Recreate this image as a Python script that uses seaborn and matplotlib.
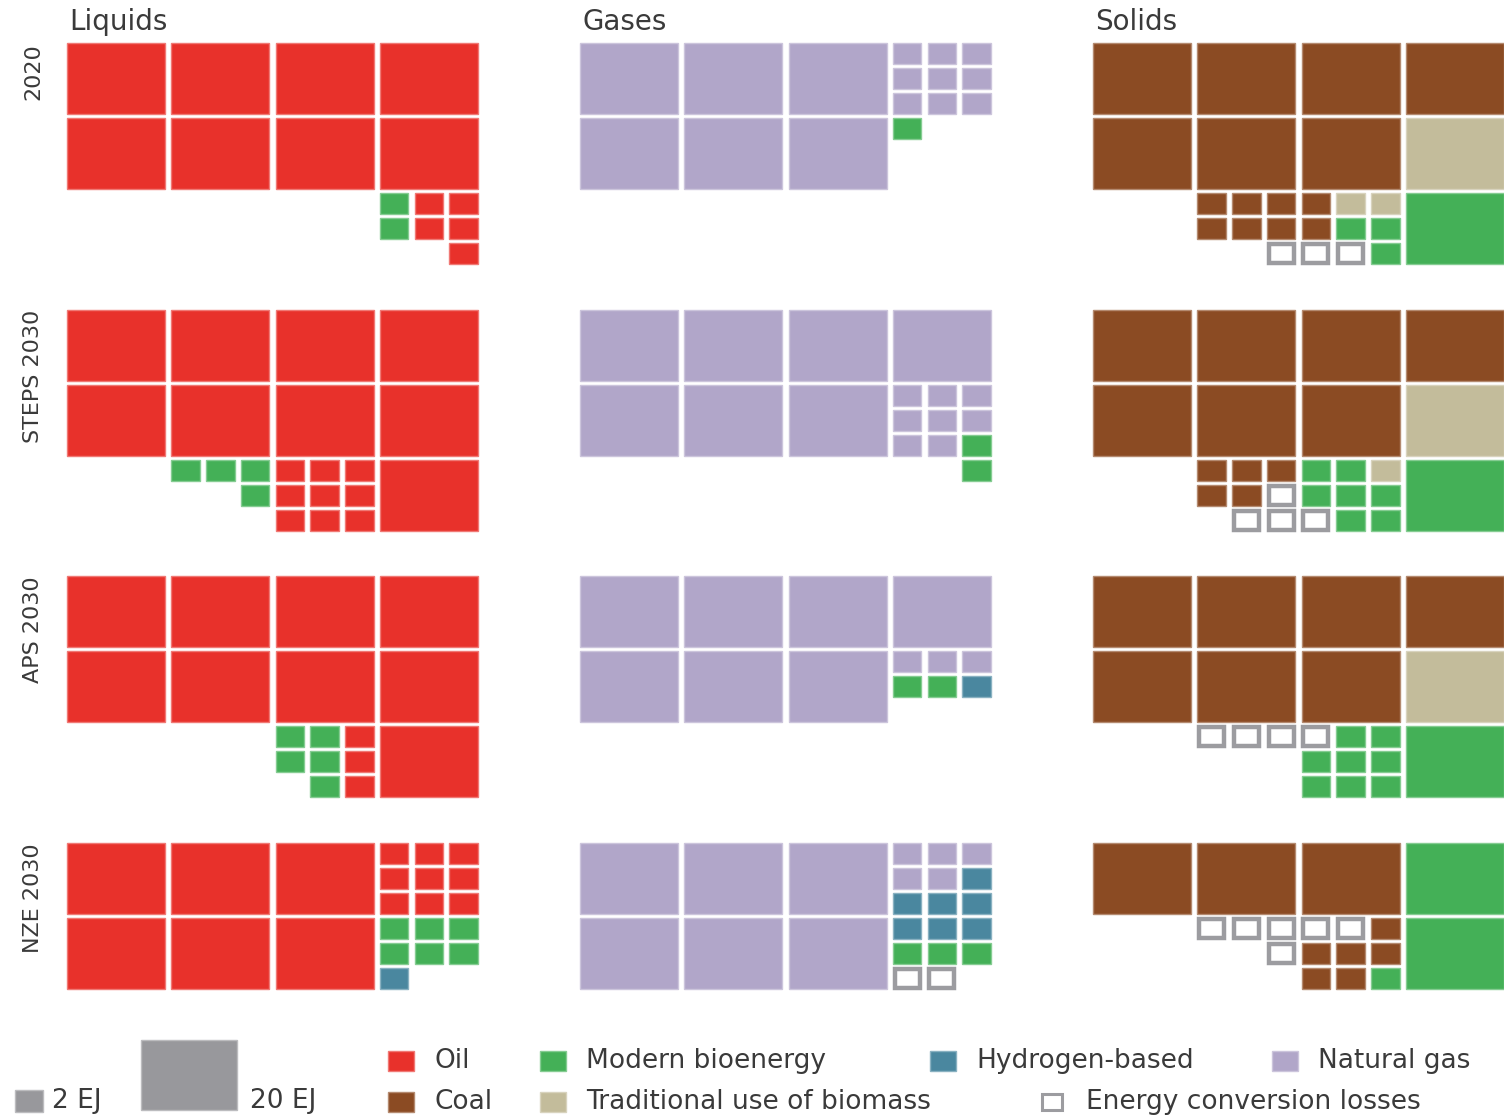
import matplotlib.pyplot as plt
import matplotlib.patches as mpatches
import matplotlib.colors as mcolors
import seaborn as sns

sns.set_style("white")
plt.rcParams["font.family"] = ["DejaVu Sans"]

# ---------------------------------------------------------------------------
# Data: one letter per 2 EJ cell, upper case letters fill a 3x3 block (20 EJ)
# o oil, g modern bioenergy, h hydrogen-based, n natural gas,
# c coal, t traditional use of biomass, l energy conversion losses
# ---------------------------------------------------------------------------
scenarios = ["2020", "STEPS 2030", "APS 2030", "NZE 2030"]
fuel_groups = ["Liquids", "Gases", "Solids"]

liquids = {
    "2020": ["OOOOOOOOOOOO"] * 6 + [
        ".........goo",
        ".........goo",
        "...........o"],
    "STEPS 2030": ["OOOOOOOOOOOO"] * 6 + [
        "...gggoooOOO",
        ".....goooOOO",
        "......oooOOO"],
    "APS 2030": ["OOOOOOOOOOOO"] * 6 + [
        "......ggoOOO",
        "......ggoOOO",
        ".......goOOO"],
    "NZE 2030": ["OOOOOOOOOooo"] * 3 + [
        "OOOOOOOOOggg",
        "OOOOOOOOOggg",
        "OOOOOOOOOh.."] + ["............"] * 3,
}

gases = {
    "2020": ["NNNNNNNNNnnn"] * 3 + [
        "NNNNNNNNNg..",
        "NNNNNNNNN...",
        "NNNNNNNNN..."] + ["............"] * 3,
    "STEPS 2030": ["NNNNNNNNNNNN"] * 3 + [
        "NNNNNNNNNnnn",
        "NNNNNNNNNnnn",
        "NNNNNNNNNnng",
        "...........g"] + ["............"] * 2,
    "APS 2030": ["NNNNNNNNNNNN"] * 3 + [
        "NNNNNNNNNnnn",
        "NNNNNNNNNggh",
        "NNNNNNNNN..."] + ["............"] * 3,
    "NZE 2030": [
        "NNNNNNNNNnnn",
        "NNNNNNNNNnnh",
        "NNNNNNNNNhhh",
        "NNNNNNNNNhhh",
        "NNNNNNNNNggg",
        "NNNNNNNNNll."] + ["............"] * 3,
}

solids = {
    "2020": ["CCCCCCCCCCCC"] * 3 + ["CCCCCCCCCTTT"] * 3 + [
        "...ccccttGGG",
        "...ccccggGGG",
        ".....lllgGGG"],
    "STEPS 2030": ["CCCCCCCCCCCC"] * 3 + ["CCCCCCCCCTTT"] * 3 + [
        "...cccggtGGG",
        "...cclgggGGG",
        "....lllggGGG"],
    "APS 2030": ["CCCCCCCCCCCC"] * 3 + ["CCCCCCCCCTTT"] * 3 + [
        "...llllggGGG",
        "......gggGGG",
        "......gggGGG"],
    "NZE 2030": ["CCCCCCCCCGGG"] * 3 + [
        "...lllllcGGG",
        ".....lcccGGG",
        "......ccgGGG"] + ["............"] * 3,
}

category_codes = ["o", "g", "h", "n", "c", "t", "l"]
category_names = ["Oil", "Modern bioenergy", "Hydrogen-based", "Natural gas",
                  "Coal", "Traditional use of biomass", "Energy conversion losses"]
scale_labels = ["2 EJ", "20 EJ"]

# ---------------------------------------------------------------------------
# Styles and layout (pixels of the 1504 x 1116 canvas)
# ---------------------------------------------------------------------------
COLORS = {"o": "#E8312B", "g": "#44B057", "h": "#4A879F", "n": "#B1A6C9",
          "c": "#8B4B23", "t": "#C3BC9B", "l": "#9C9CA0"}
SCALE_GREY = "#98989C"
TEXT_COLOR = "#3A3A3A"

W, H = 1504, 1116
UX, UY = 34.75, 25.0          # one small cell pitch
GX, GY = 0.18, 0.13           # gap inside a cell pitch
PANEL_LEFT = [64, 577, 1090]
PANEL_TOP = [41, 308, 574, 841]
NCOL, NROW = 12, 9

# legend positions: (marker x, row y)
LEGEND_POS = [(388, 1061), (540, 1061), (930, 1061), (1272, 1061),
              (388, 1102), (540, 1102), (1040, 1102)]


def lighten(color, amount):
    r, g, b = mcolors.to_rgb(color)
    return (r + (1 - r) * amount, g + (1 - g) * amount, b + (1 - b) * amount)


def cells_from_grid(rows):
    """Return (col, row, size, code) for every cell in a 9x12 letter grid."""
    cells = []
    for r0 in range(0, NROW, 3):
        for c0 in range(0, NCOL, 3):
            block = [rows[r][c0:c0 + 3] for r in range(r0, r0 + 3)]
            letters = set("".join(block))
            if len(letters) == 1:
                letter = next(iter(letters))
                if letter.isupper():
                    cells.append((c0, r0, 3, letter.lower()))
                    continue
            for dr, line in enumerate(block):
                for dc, ch in enumerate(line):
                    if ch.islower():
                        cells.append((c0 + dc, r0 + dr, 1, ch))
    return cells


def draw_cell(ax, col, row, size, code):
    x = col + GX / 2
    y = row + GY / 2
    w = size - GX
    h = size - GY
    if code == "l":
        ax.add_patch(mpatches.Rectangle((x + 0.05, y + 0.05), w - 0.1, h - 0.1,
                                        facecolor="white", edgecolor=COLORS["l"],
                                        linewidth=3.2))
    else:
        ax.add_patch(mpatches.Rectangle((x, y), w, h, facecolor=COLORS[code],
                                        edgecolor=lighten(COLORS[code], 0.35),
                                        linewidth=1.0))


fig = plt.figure(figsize=(W / 100, H / 100), dpi=100)

groups = [liquids, gases, solids]
for i, scen in enumerate(scenarios):
    for j, grid in enumerate(groups):
        left = PANEL_LEFT[j]
        top = PANEL_TOP[i]
        ax = fig.add_axes([left / W, 1 - (top + NROW * UY) / H,
                           NCOL * UX / W, NROW * UY / H])
        ax.set_xlim(0, NCOL)
        ax.set_ylim(NROW, 0)
        ax.axis("off")
        for col, row, size, code in cells_from_grid(grid[scen]):
            draw_cell(ax, col, row, size, code)

    fig.text(33 / W, 1 - (PANEL_TOP[i] + 2) / H, scen, rotation=90, ha="center",
             va="top", fontsize=16, color=TEXT_COLOR)

for j, name in enumerate(fuel_groups):
    fig.text((PANEL_LEFT[j] + 5) / W, 1 - 22 / H, name, ha="left", va="center",
             fontsize=20, color=TEXT_COLOR)

# legend strip drawn in canvas pixels
leg = fig.add_axes([0, 0, 1, 1], zorder=-1)
leg.set_xlim(0, W)
leg.set_ylim(H, 0)
leg.axis("off")

small_w, small_h = (1 - GX) * UX, (1 - GY) * UY
big_w, big_h = (3 - GX) * UX, (3 - GY) * UY
leg.add_patch(mpatches.Rectangle((15, 1112 - small_h), small_w, small_h,
                                 facecolor=SCALE_GREY, edgecolor=lighten(SCALE_GREY, 0.35),
                                 linewidth=1.0))
leg.text(52, 1101, scale_labels[0], ha="left", va="center", fontsize=19, color=TEXT_COLOR)
leg.add_patch(mpatches.Rectangle((141, 1112 - big_h), big_w - 2, big_h - 2,
                                 facecolor=SCALE_GREY, edgecolor=lighten(SCALE_GREY, 0.35),
                                 linewidth=1.0))
leg.text(250, 1101, scale_labels[1], ha="left", va="center", fontsize=19, color=TEXT_COLOR)

for code, name, (mx, my) in zip(category_codes, category_names, LEGEND_POS):
    if code == "l":
        leg.add_patch(mpatches.Rectangle((mx + 2, my - 8), 20, 16, facecolor="white",
                                         edgecolor=COLORS["l"], linewidth=2.2))
    else:
        leg.add_patch(mpatches.Rectangle((mx, my - 10), 26, 20, facecolor=COLORS[code],
                                         edgecolor=lighten(COLORS[code], 0.35),
                                         linewidth=1.0))
    leg.text(mx + 46, my, name, ha="left", va="center", fontsize=19, color=TEXT_COLOR)

fig.savefig("out.png", dpi=100)
